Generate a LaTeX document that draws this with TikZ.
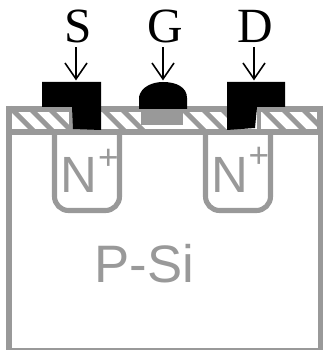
\documentclass[tikz,border=0pt]{standalone}
\usepackage{fontspec}
\setmainfont{Liberation Serif}
\setsansfont{Liberation Sans}
\definecolor{sigray}{gray}{0.6}
\tikzset{
    wall/.style={draw=sigray, line width=3.4pt},
    well/.style={draw=sigray, line width=2.9pt, rounded corners=8pt},
    metal/.style={fill=black, draw=none},
    pin/.style={font=\fontsize{28}{28}\selectfont, inner sep=0pt, text=black},
    silabel/.style={font=\sffamily\fontsize{29}{29}\selectfont, inner sep=0pt, text=sigray},
    pluslabel/.style={font=\sffamily\fontsize{20}{20}\selectfont, inner sep=0pt, text=sigray},
    probe/.style={draw=black, line width=0.9pt},
}
\begin{document}
\begin{tikzpicture}[x=0.02cm, y=-0.02cm]
    \useasboundingbox (0,0) rectangle (323,350);
    % oxide band
    \fill[sigray] (6,106) rectangle (323,135);
    \fill[white] (12,112) rectangle (69,129);
    \fill[white] (101,112) rectangle (317,129);
    \foreach \xa in {11,30,49,102,121,182,202,221,262,282,302}
        \fill[sigray] (\xa,112) -- (\xa+7,112) -- (\xa+24,129) -- (\xa+17,129) -- cycle;
    \fill[sigray] (317,112) rectangle (323,129);
    \fill[sigray] (69,112) rectangle (73,129);
    \fill[sigray] (257,112) rectangle (261,129);
    % substrate
    \draw[wall] (9,106) -- (9,350);
    \draw[wall] (320.5,106) -- (320.5,350);
    \fill[sigray] (6,348) rectangle (323,350);
    % wells
    \draw[well] (54.5,135) -- (54.5,210.5) -- (119.5,210.5) -- (119.5,135);
    \draw[well] (205.5,135) -- (205.5,210.5) -- (270.5,210.5) -- (270.5,135);
    % gate
    \fill[sigray] (141,108) rectangle (183,125);
    \path[metal] (139,109) -- (139,97) .. controls (141,87) and (152,82) .. (163,82) .. controls (176,82) and (187,87) .. (187,98) -- (187,109) -- cycle;
    % contacts
    \path[metal] (42,82) -- (101,82) -- (101,130) -- (73,129) -- (72,107) -- (42,107) -- cycle;
    \path[metal] (227,82) -- (285,82) -- (285,107) -- (257,107) -- (255,128) -- (227,130) -- cycle;
    % labels
    \node[pin] (s) at (78,26.5) {S};
    \node[pin] (g) at (165.5,26.5) {G};
    \node[pin] (d) at (255.5,26.5) {D};
    \coordinate (sc) at (76,79);
    \coordinate (gc) at (163,79);
    \coordinate (dc) at (254,79);
    \draw[probe] (s.south -| sc) ++(0,4) -- (sc);
    \draw[probe] (g.south -| gc) ++(0,4) -- (gc);
    \draw[probe] (d.south -| dc) ++(0,4) -- (dc);
    \draw[probe] (65,63) -- (sc) -- (87,63);
    \draw[probe] (152,63) -- (gc) -- (174,63);
    \draw[probe] (243,63) -- (dc) -- (265,63);
    \node[silabel] (n1) at (79,175) {N};
    \node[silabel] (n2) at (230,175) {N};
    \node[pluslabel] (p1) at (108.5,159) {+};
    \node[pluslabel] (p2) at (259,157) {+};
    \node[silabel, font=\sffamily\fontsize{30}{30}\selectfont] (psi) at (144.5,264) {P-Si};
\end{tikzpicture}
\end{document}
